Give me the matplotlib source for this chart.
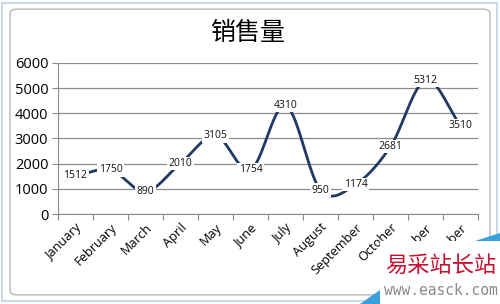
import numpy as np
import matplotlib.pyplot as plt
from matplotlib.patches import FancyBboxPatch, Rectangle, Polygon

months = ['January', 'February', 'March', 'April', 'May', 'June', 'July',
          'August', 'September', 'Octoher', 'November', 'December']
sales = [1512, 1750, 890, 2010, 3105, 1754, 4310, 950, 1174, 2681, 5312, 3510]
yticks = [0, 1000, 2000, 3000, 4000, 5000, 6000]
title = '销售量'

plt.rcParams['font.family'] = ['Open Sans', 'Noto Sans CJK SC', 'DejaVu Sans']


def smooth(x, y, n=30):
	# catmull-rom through the data points
	x = np.asarray(x, float)
	y = np.asarray(y, float)
	px = np.concatenate([[2 * x[0] - x[1]], x, [2 * x[-1] - x[-2]]])
	py = np.concatenate([[2 * y[0] - y[1]], y, [2 * y[-1] - y[-2]]])
	xs, ys = [], []
	t = np.linspace(0, 1, n)
	for i in range(1, len(px) - 2):
		for p, out in ((px, xs), (py, ys)):
			p0, p1, p2, p3 = p[i - 1], p[i], p[i + 1], p[i + 2]
			out.extend(0.5 * ((2 * p1) + (-p0 + p2) * t +
				(2 * p0 - 5 * p1 + 4 * p2 - p3) * t ** 2 +
				(-p0 + 3 * p1 - 3 * p2 + p3) * t ** 3))
	return np.array(xs), np.array(ys)


fig = plt.figure(figsize=(5, 3.04), dpi=100)
fig.patch.set_facecolor('white')

# outer frame and chart border
fig.patches.append(Rectangle((0.004, 0.01), 0.99, 0.98, transform=fig.transFigure,
	fill=False, edgecolor='#bcd3ea', lw=1.2))
fig.patches.append(FancyBboxPatch((0.02, 0.03), 0.96, 0.94, transform=fig.transFigure,
	boxstyle='round,pad=0,rounding_size=0.015', fill=False, edgecolor='#a6a6a6', lw=0.8))

ax = fig.add_axes([0.116, 0.296, 0.84, 0.497])
x = np.arange(len(months))
sx, sy = smooth(x, sales)
ax.plot(sx, sy, color='#1f3864', lw=2.0, solid_capstyle='round', zorder=2)
for xi, v in zip(x, sales):
	ax.text(xi, v, str(v), ha='center', va='center', fontsize=7.5, color='#111111',
		bbox=dict(facecolor='white', edgecolor='none', pad=1.0), zorder=3)

ax.set_xlim(-0.5, len(months) - 0.5)
ax.set_ylim(0, 6000)
ax.set_yticks(yticks)
ax.set_yticklabels([str(t) for t in yticks], fontsize=10.5)
ax.yaxis.grid(True, color='#8c8c8c', lw=0.9)
ax.set_axisbelow(True)
ax.set_xticks(np.arange(-0.5, len(months), 1))
ax.set_xticklabels([])
ax.set_xticks(x, minor=True)
ax.set_xticklabels(months, minor=True, rotation=45, ha='right', rotation_mode='anchor',
	fontsize=9.2)
ax.tick_params(axis='x', which='minor', length=0, pad=5)
ax.tick_params(axis='x', which='major', length=4, color='#8c8c8c', direction='out')
ax.tick_params(axis='y', length=4, color='#8c8c8c', pad=3)
for s in ['top', 'right']:
	ax.spines[s].set_visible(False)
ax.spines['left'].set_color('#8c8c8c')
ax.spines['bottom'].set_color('#8c8c8c')

fig.text(0.496, 0.893, title, ha='center', va='center', fontsize=18,
	family=['Noto Sans CJK SC'])

# watermark
fig.patches.append(Rectangle((0.76, 0.0), 0.24, 0.208, transform=fig.transFigure,
	facecolor='white', edgecolor='none', zorder=5))
fig.patches.append(Polygon([(0.95, 0.208), (1.0, 0.208), (1.0, 0.235)], closed=True,
	transform=fig.transFigure, facecolor='#3aa0dc', edgecolor='none', zorder=6))
fig.patches.append(Polygon([(0.72, 0.0), (0.76, 0.0), (0.76, 0.045)], closed=True,
	transform=fig.transFigure, facecolor='#3aa0dc', edgecolor='none', zorder=6))
fig.text(0.882, 0.128, '易采站长站', ha='center', va='center', fontsize=16,
	color='#c8102e', family=['Noto Sans CJK SC'], zorder=7)
fig.text(0.882, 0.046, 'www.easck.com', ha='center', va='center', fontsize=10.5,
	color='#8a8a8a', family=['DejaVu Sans Mono'], zorder=7)

plt.savefig('out.png', dpi=100)
